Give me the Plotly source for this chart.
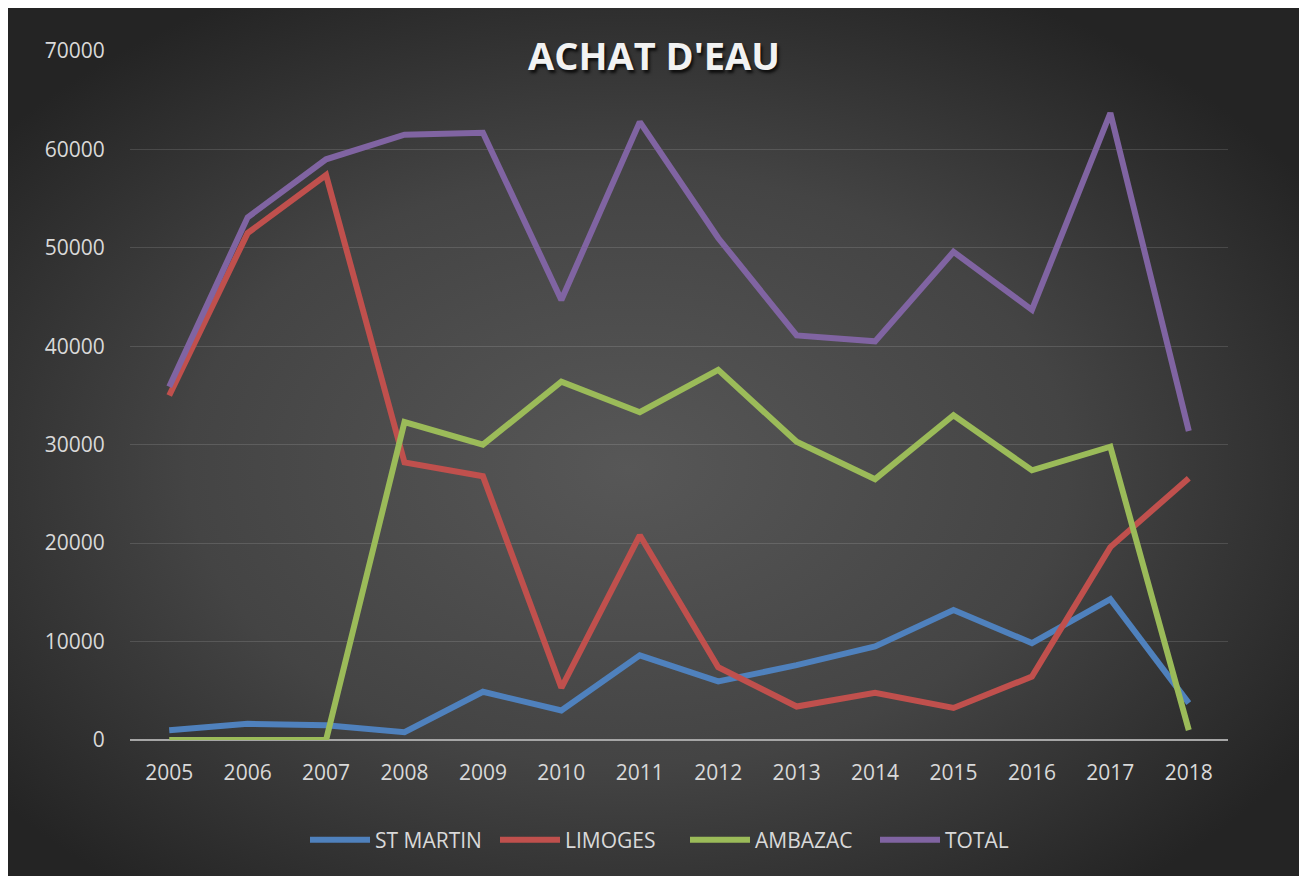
import base64
import plotly.graph_objects as go

years = ["2005", "2006", "2007", "2008", "2009", "2010", "2011",
         "2012", "2013", "2014", "2015", "2016", "2017", "2018"]
st_martin = [1000, 1650, 1500, 800, 4900, 3000, 8600, 5950, 7600, 9500, 13200, 9850, 14300, 3750]
limoges = [35000, 51500, 57400, 28200, 26800, 5300, 20800, 7400, 3400, 4800, 3250, 6450, 19600, 26600]
ambazac = [0, 0, 0, 32300, 30000, 36400, 33300, 37600, 30300, 26500, 33000, 27400, 29800, 1000]
total = [35900, 53100, 59000, 61500, 61700, 44700, 62800, 51000, 41100, 40500, 49600, 43700, 63700, 31400]

series = [
    ("ST MARTIN", st_martin, "#4F81BD"),
    ("LIMOGES", limoges, "#C0504D"),
    ("AMBAZAC", ambazac, "#9BBB59"),
    ("TOTAL", total, "#8064A2"),
]

W, H = 1292, 868
ML, MR, MT, MB = 122, 72, 43, 136
PW, PH = W - ML - MR, H - MT - MB

svg = (
    f'<svg xmlns="http://www.w3.org/2000/svg" width="{W}" height="{H}" '
    f'preserveAspectRatio="none" viewBox="0 0 {W} {H}">'
    '<defs><radialGradient id="g" cx="0.48" cy="0.53" r="0.62">'
    '<stop offset="0" stop-color="#575757"/>'
    '<stop offset="0.55" stop-color="#444444"/>'
    '<stop offset="1" stop-color="#242424"/>'
    '</radialGradient></defs>'
    f'<rect x="0" y="0" width="{W}" height="{H}" fill="url(#g)"/></svg>'
)
src = "data:image/svg+xml;base64," + base64.b64encode(svg.encode()).decode()

fig = go.Figure()
for name, vals, col in series:
    fig.add_trace(go.Scatter(
        x=years, y=vals, name=name, mode="lines",
        line=dict(color=col, width=6),
        hoverinfo="skip",
    ))

fig.add_layout_image(dict(
    source=src, xref="paper", yref="paper",
    x=-ML / PW, y=(PH + MT) / PH,
    sizex=W / PW, sizey=H / PH,
    xanchor="left", yanchor="top", sizing="stretch", layer="below",
))

tickfont = dict(family="Open Sans", size=21, color="#d9d9d9")

fig.update_layout(
    width=W, height=H,
    margin=dict(l=ML, r=MR, t=MT, b=MB),
    paper_bgcolor="#333333",
    plot_bgcolor="rgba(0,0,0,0)",
    title=dict(
        text="ACHAT D'EAU", x=0.5, xref="container", xanchor="center",
        y=1 - 49 / H, yref="container", yanchor="middle",
        font=dict(family="Open Sans", size=38, color="#f2f2f2", weight="bold",
                  shadow="2px 3px 3px rgba(0,0,0,0.75)"),
    ),
    legend=dict(
        orientation="h", x=677 / W, xref="container", xanchor="center",
        y=1 - 832 / H, yref="container", yanchor="middle",
        font=dict(family="Open Sans", size=21, color="#d9d9d9"),
        bgcolor="rgba(0,0,0,0)", itemwidth=60,
        entrywidth=115, entrywidthmode="pixels",
    ),
    xaxis=dict(
        type="category", range=[-0.5, 13.5], showgrid=False, zeroline=False,
        showline=False, tickfont=tickfont, ticks="outside", ticklen=14,
        tickcolor="rgba(0,0,0,0)",
    ),
    yaxis=dict(
        range=[0, 70000], dtick=10000, tickformat="d",
        showgrid=True, gridcolor="rgba(255,255,255,0.13)", gridwidth=1,
        zeroline=True, zerolinecolor="#a6a6a6", zerolinewidth=2,
        showline=False, tickfont=tickfont, ticks="outside", ticklen=20,
        tickcolor="rgba(0,0,0,0)",
    ),
    showlegend=True,
)

fig.write_html("out.html")
